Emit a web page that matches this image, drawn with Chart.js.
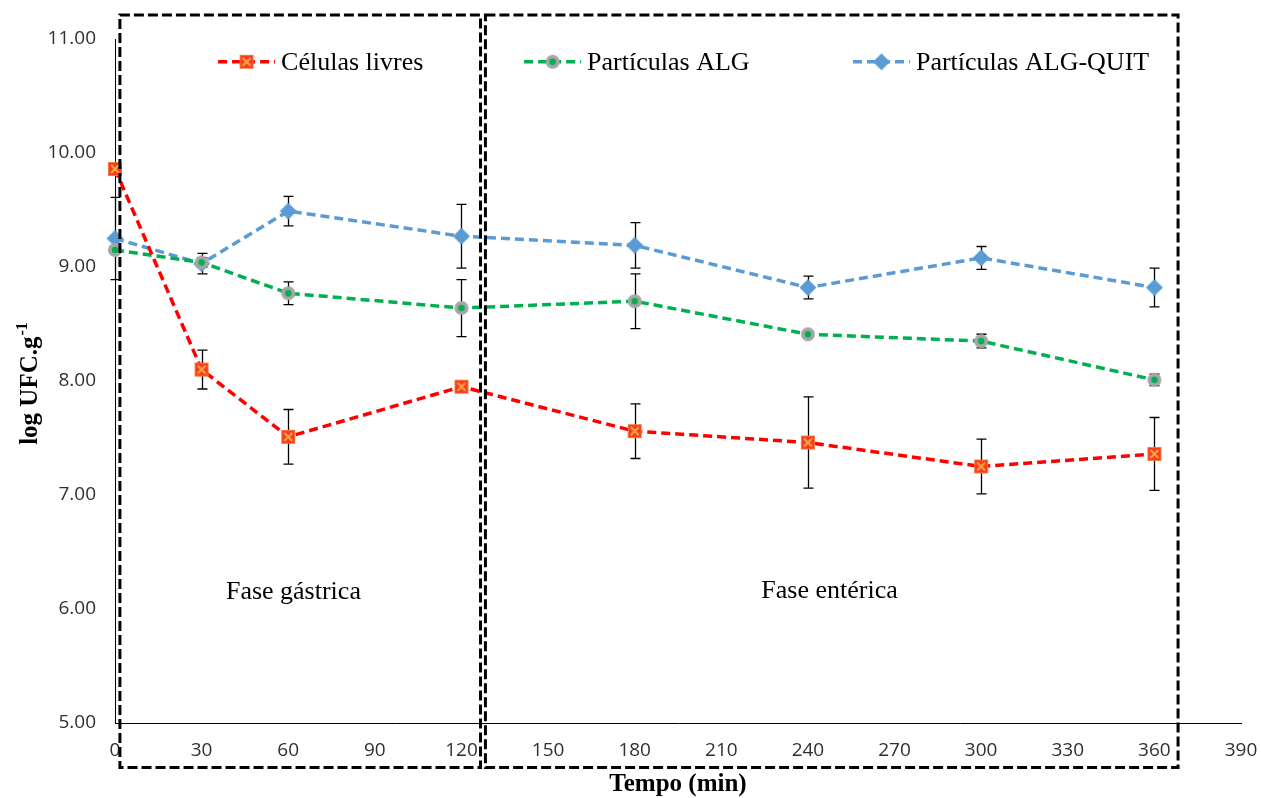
<!DOCTYPE html>
<html>
<head>
<meta charset="utf-8">
<script src="https://cdn.jsdelivr.net/npm/chart.js@4.4.0/dist/chart.umd.min.js"></script>
<style>
  html, body { margin: 0; padding: 0; background: #fff; }
  #wrap { width: 1261px; height: 798px; }
</style>
</head>
<body>
<div id="wrap"><canvas id="survivalChart"></canvas></div>
<script>
// tempos de amostragem (min)
const tempos = [0, 30, 60, 120, 180, 240, 300, 360];

// log UFC/g por tratamento e desvio padrão
const celulasLivres = [9.86, 8.10, 7.51, 7.95, 7.56, 7.46, 7.25, 7.36];
const celulasErro = [0, 0.17, 0.24, 0, 0.24, 0.40, 0.24, 0.32];
const particulasAlg = [9.15, 9.04, 8.77, 8.64, 8.70, 8.41, 8.35, 8.01];
const algErro = [0, 0.04, 0.10, 0.25, 0.24, 0.02, 0.06, 0.05];
const particulasQuit = [9.25, 9.03, 9.49, 9.27, 9.19, 8.82, 9.08, 8.82];
const quitErro = [0.36, 0.09, 0.13, 0.28, 0.20, 0.10, 0.10, 0.17];

const nomesSeries = ['Células livres', 'Partículas ALG', 'Partículas ALG-QUIT'];

// eixos
const xMin = 0, xMax = 390, xPasso = 30;
const yMin = 5, yMax = 11, yPasso = 1;

// fases da digestão (limites em minutos)
const fasesNomes = ['Fase gástrica', 'Fase entérica'];
const fasesInicio = [1.7, 128.3];
const fasesFim = [126.6, 368.2];

const serif = '"Liberation Serif", "Times New Roman", serif';
const sans = '"Open Sans", "Liberation Sans", sans-serif';

//#region marcadores
function marcador(tipo) {
    const c = document.createElement('canvas');
    c.width = 18; c.height = 18;
    const g = c.getContext('2d');
    if (tipo === 'quadrado') {
        g.fillStyle = '#FA3A1C';
        g.fillRect(2.5, 2.5, 13, 13);
        g.strokeStyle = '#F27A3A';
        g.lineWidth = 1;
        g.strokeRect(2.5, 2.5, 13, 13);
        g.strokeStyle = '#F6A44A';
        g.lineWidth = 2.2;
        g.beginPath();
        g.moveTo(5, 5); g.lineTo(13, 13);
        g.moveTo(13, 5); g.lineTo(5, 13);
        g.stroke();
    } else if (tipo === 'circulo') {
        g.fillStyle = '#A6A6A6';
        g.beginPath(); g.arc(9, 9, 7, 0, Math.PI * 2); g.fill();
        g.fillStyle = '#00B050';
        g.beginPath(); g.arc(9, 9, 3.2, 0, Math.PI * 2); g.fill();
    } else {
        g.fillStyle = '#5B9BD5';
        g.beginPath();
        g.moveTo(9, 0.5); g.lineTo(17.5, 9); g.lineTo(9, 17.5); g.lineTo(0.5, 9);
        g.closePath(); g.fill();
    }
    return c;
}
const mkVermelho = marcador('quadrado');
const mkVerde = marcador('circulo');
const mkAzul = marcador('losango');
//#endregion

function pontos(valores) {
    return tempos.map((t, i) => ({ x: t, y: valores[i] }));
}

function serie(nome, valores, erro, cor, img) {
    return {
        label: nome,
        data: pontos(valores),
        erro: erro,
        borderColor: cor,
        backgroundColor: cor,
        borderWidth: 3.5,
        borderDash: [9, 5],
        pointStyle: img,
        pointRadius: 8,
        tension: 0,
        clip: false
    };
}

// barras de erro (desenhadas antes das séries, marcadores ficam por cima)
const errorBars = {
    id: 'errorBars',
    beforeDatasetsDraw(chart) {
        const { ctx, scales: { x, y } } = chart;
        ctx.save();
        ctx.strokeStyle = '#000';
        ctx.lineWidth = 1.3;
        chart.data.datasets.forEach(ds => {
            ds.erro.forEach((e, i) => {
                if (!e) return;
                const px = Math.round(x.getPixelForValue(ds.data[i].x)) + 0.5;
                const top = y.getPixelForValue(ds.data[i].y + e);
                const bot = y.getPixelForValue(ds.data[i].y - e);
                ctx.beginPath();
                ctx.moveTo(px, top); ctx.lineTo(px, bot);
                ctx.moveTo(px - 5, top); ctx.lineTo(px + 5, top);
                ctx.moveTo(px - 5, bot); ctx.lineTo(px + 5, bot);
                ctx.stroke();
            });
        });
        ctx.restore();
    }
};

// caixas tracejadas das fases + rótulos
const fases = {
    id: 'fases',
    afterDatasetsDraw(chart) {
        const { ctx, scales: { x, y } } = chart;
        ctx.save();
        ctx.strokeStyle = '#000';
        ctx.lineWidth = 3;
        ctx.setLineDash([10, 4]);
        const topo = y.getPixelForValue(11.21);
        const base = y.getPixelForValue(4.61);
        fasesNomes.forEach((nome, i) => {
            const x0 = x.getPixelForValue(fasesInicio[i]);
            const x1 = x.getPixelForValue(fasesFim[i]);
            ctx.strokeRect(x0, topo, x1 - x0, base - topo);
        });
        ctx.setLineDash([]);
        ctx.fillStyle = '#000';
        ctx.font = '26px ' + serif;
        ctx.textAlign = 'center';
        ctx.textBaseline = 'middle';
        ctx.fillText(fasesNomes[0], x.getPixelForValue(61.8), y.getPixelForValue(6.15));
        ctx.fillText(fasesNomes[1], x.getPixelForValue(247.5), y.getPixelForValue(6.16));
        ctx.restore();
    }
};

// legenda dentro da área do gráfico
const legenda = {
    id: 'legenda',
    afterDraw(chart) {
        const { ctx, scales: { x, y } } = chart;
        const inicio = [35.7, 141.7, 255.6];
        const py = y.getPixelForValue(10.8);
        ctx.save();
        chart.data.datasets.forEach((ds, i) => {
            const x0 = x.getPixelForValue(inicio[i]);
            ctx.strokeStyle = ds.borderColor;
            ctx.lineWidth = 3.5;
            ctx.setLineDash([9, 5]);
            ctx.beginPath();
            ctx.moveTo(x0, py); ctx.lineTo(x0 + 57, py);
            ctx.stroke();
            ctx.setLineDash([]);
            const img = ds.pointStyle;
            ctx.drawImage(img, x0 + 28.5 - img.width / 2, py - img.height / 2);
            ctx.fillStyle = '#000';
            ctx.font = '26px ' + serif;
            ctx.textAlign = 'left';
            ctx.textBaseline = 'middle';
            ctx.fillText(ds.label, x0 + 63, py + 1);
        });
        ctx.restore();
    }
};

// título do eixo y com expoente
const tituloY = {
    id: 'tituloY',
    afterDraw(chart) {
        const { ctx } = chart;
        const base = 'log UFC.g';
        const sup = '-1';
        ctx.save();
        ctx.fillStyle = '#000';
        ctx.font = 'bold 25px ' + serif;
        const w1 = ctx.measureText(base).width;
        ctx.font = 'bold 16px ' + serif;
        const w2 = ctx.measureText(sup).width;
        const total = w1 + w2;
        ctx.translate(37, 384);
        ctx.rotate(-Math.PI / 2);
        ctx.textAlign = 'left';
        ctx.textBaseline = 'alphabetic';
        ctx.font = 'bold 25px ' + serif;
        ctx.fillText(base, -total / 2, 0);
        ctx.font = 'bold 16px ' + serif;
        ctx.fillText(sup, -total / 2 + w1 + 1, -10);
        ctx.restore();
    }
};

document.addEventListener('DOMContentLoaded', function () {
    const ctx = document.getElementById('survivalChart').getContext('2d');

    new Chart(ctx, {
        type: 'line',
        data: {
            datasets: [
                serie(nomesSeries[0], celulasLivres, celulasErro, '#FF0000', mkVermelho),
                serie(nomesSeries[1], particulasAlg, algErro, '#00B050', mkVerde),
                serie(nomesSeries[2], particulasQuit, quitErro, '#5B9BD5', mkAzul)
            ]
        },
        options: {
            responsive: true,
            maintainAspectRatio: false,
            animation: false,
            layout: { padding: { top: 39, right: 20, bottom: 0, left: 0 } },
            plugins: {
                legend: { display: false },
                title: { display: false },
                tooltip: { enabled: false }
            },
            scales: {
                x: {
                    type: 'linear',
                    min: xMin, max: xMax,
                    grid: { display: false, drawTicks: false },
                    border: { display: true, color: '#000', width: 1 },
                    ticks: {
                        stepSize: xPasso,
                        autoSkip: false,
                        maxRotation: 0,
                        padding: 16,
                        color: '#303030',
                        font: { family: sans, size: 19 }
                    },
                    title: {
                        display: true,
                        text: 'Tempo (min)',
                        color: '#000',
                        font: { family: serif, size: 25, weight: 'bold' },
                        padding: { top: 0, bottom: -2 }
                    },
                    afterFit(s) {
                        s.height = 75;
                        s.paddingLeft = 0;
                        s.paddingRight = 0;
                    }
                },
                y: {
                    min: yMin, max: yMax,
                    grid: { display: false, drawTicks: false },
                    border: { display: true, color: '#000', width: 1 },
                    ticks: {
                        stepSize: yPasso,
                        padding: 19,
                        color: '#303030',
                        font: { family: sans, size: 19 },
                        callback: v => v.toFixed(2)
                    },
                    afterFit(s) {
                        s.width = 115;
                        s.paddingTop = 0;
                        s.paddingBottom = 0;
                    }
                }
            }
        },
        plugins: [errorBars, fases, legenda, tituloY]
    });
});
</script>
</body>
</html>
